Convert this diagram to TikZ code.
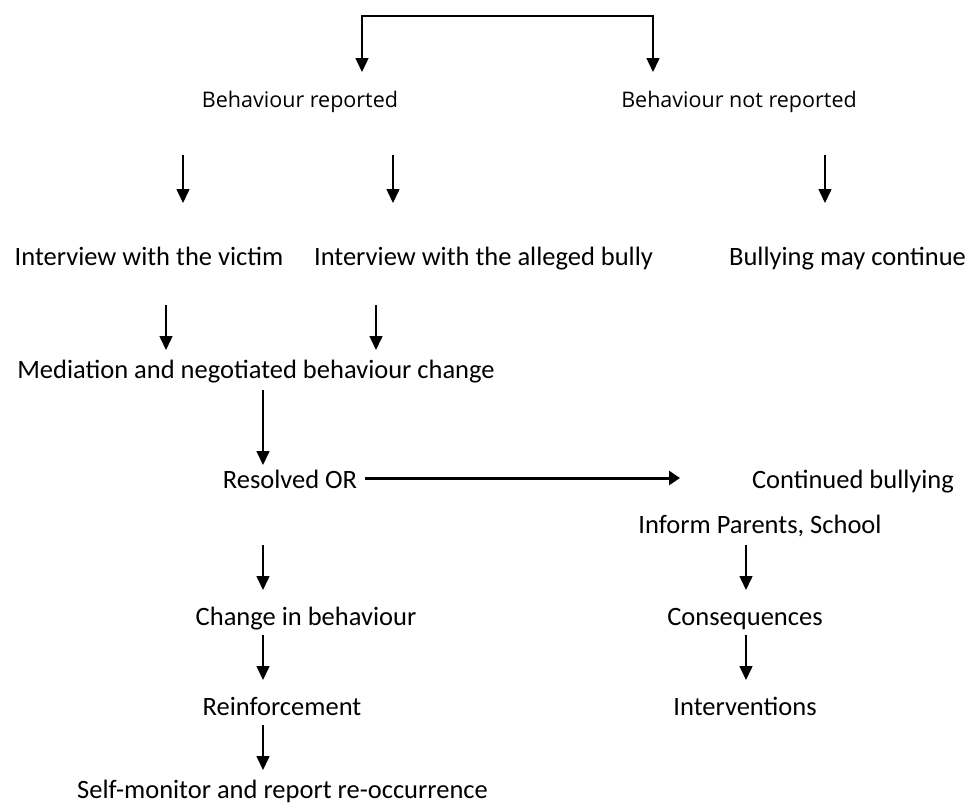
\documentclass[tikz,border=0pt]{standalone}
\usepackage{fontspec}
\setmainfont{Carlito}
\newfontfamily\topfont{Open Sans}
\usetikzlibrary{arrows.meta}
\begin{document}
\begin{tikzpicture}[x=1pt,y=-1pt,
  lbl/.style={inner sep=0pt,anchor=base,font=\fontsize{26.5}{30}\selectfont},
  toplbl/.style={inner sep=0pt,anchor=base,font=\topfont\fontsize{21.5}{26}\selectfont},
  arr/.style={line width=1.5pt,-{Triangle[length=14pt,width=13pt]}},
  bigarr/.style={line width=3pt,-{Triangle[length=11pt,width=14pt]}}]
\useasboundingbox (0,0) rectangle (971,807);
% labels
\node[toplbl] (rep) at (300,107) {Behaviour reported};
\node[toplbl] (notrep) at (739,107) {Behaviour not reported};
\node[lbl] (victim) at (149,265) {Interview with the victim};
\node[lbl] (bully) at (483.5,265) {Interview with the alleged bully};
\node[lbl] (cont) at (847.5,265) {Bullying may continue};
\node[lbl] (med) at (256,378) {Mediation and negotiated behaviour change};
\node[lbl] (res) at (290,488) {Resolved OR};
\node[lbl] (contb) at (853,488) {Continued bullying};
\node[lbl] (inform) at (760,533) {Inform Parents, School};
\node[lbl] (cons) at (745,625) {Consequences};
\node[lbl] (inter) at (745,715) {Interventions};
\node[lbl] (chg) at (306,625) {Change in behaviour};
\node[lbl] (reinf) at (282,715) {Reinforcement};
\node[lbl] (self) at (282.5,798) {Self-monitor and report re-occurrence};
% arrow endpoints
\coordinate (ta) at (362,72); \coordinate (tl) at (362,16);
\coordinate (tr) at (653,16); \coordinate (tb) at (653,72);
\coordinate (a1s) at (183,155); \coordinate (a1e) at (183,203);
\coordinate (a2s) at (393,155); \coordinate (a2e) at (393,203);
\coordinate (a3s) at (825,155); \coordinate (a3e) at (825,203);
\coordinate (b1s) at (166,305); \coordinate (b1e) at (166,350);
\coordinate (b2s) at (376,305); \coordinate (b2e) at (376,350);
\coordinate (c1s) at (263,390); \coordinate (c1e) at (263,465);
\coordinate (hs) at (365,478); \coordinate (he) at (680,478);
\coordinate (d1s) at (263,545); \coordinate (d1e) at (263,590);
\coordinate (d2s) at (263,635); \coordinate (d2e) at (263,680);
\coordinate (d3s) at (263,725); \coordinate (d3e) at (263,770);
\coordinate (e1s) at (746,545); \coordinate (e1e) at (746,590);
\coordinate (e2s) at (746,635); \coordinate (e2e) at (746,680);
% connectors
\draw[line width=1.5pt,{Triangle[length=14pt,width=13pt]}-{Triangle[length=14pt,width=13pt]}] (ta) -- (tl) -- (tr) -- (tb);
\draw[arr] (a1s) -- (a1e);
\draw[arr] (a2s) -- (a2e);
\draw[arr] (a3s) -- (a3e);
\draw[arr] (b1s) -- (b1e);
\draw[arr] (b2s) -- (b2e);
\draw[arr] (c1s) -- (c1e);
\draw[bigarr] (hs) -- (he);
\draw[arr] (d1s) -- (d1e);
\draw[arr] (d2s) -- (d2e);
\draw[arr] (d3s) -- (d3e);
\draw[arr] (e1s) -- (e1e);
\draw[arr] (e2s) -- (e2e);
\end{tikzpicture}
\end{document}
